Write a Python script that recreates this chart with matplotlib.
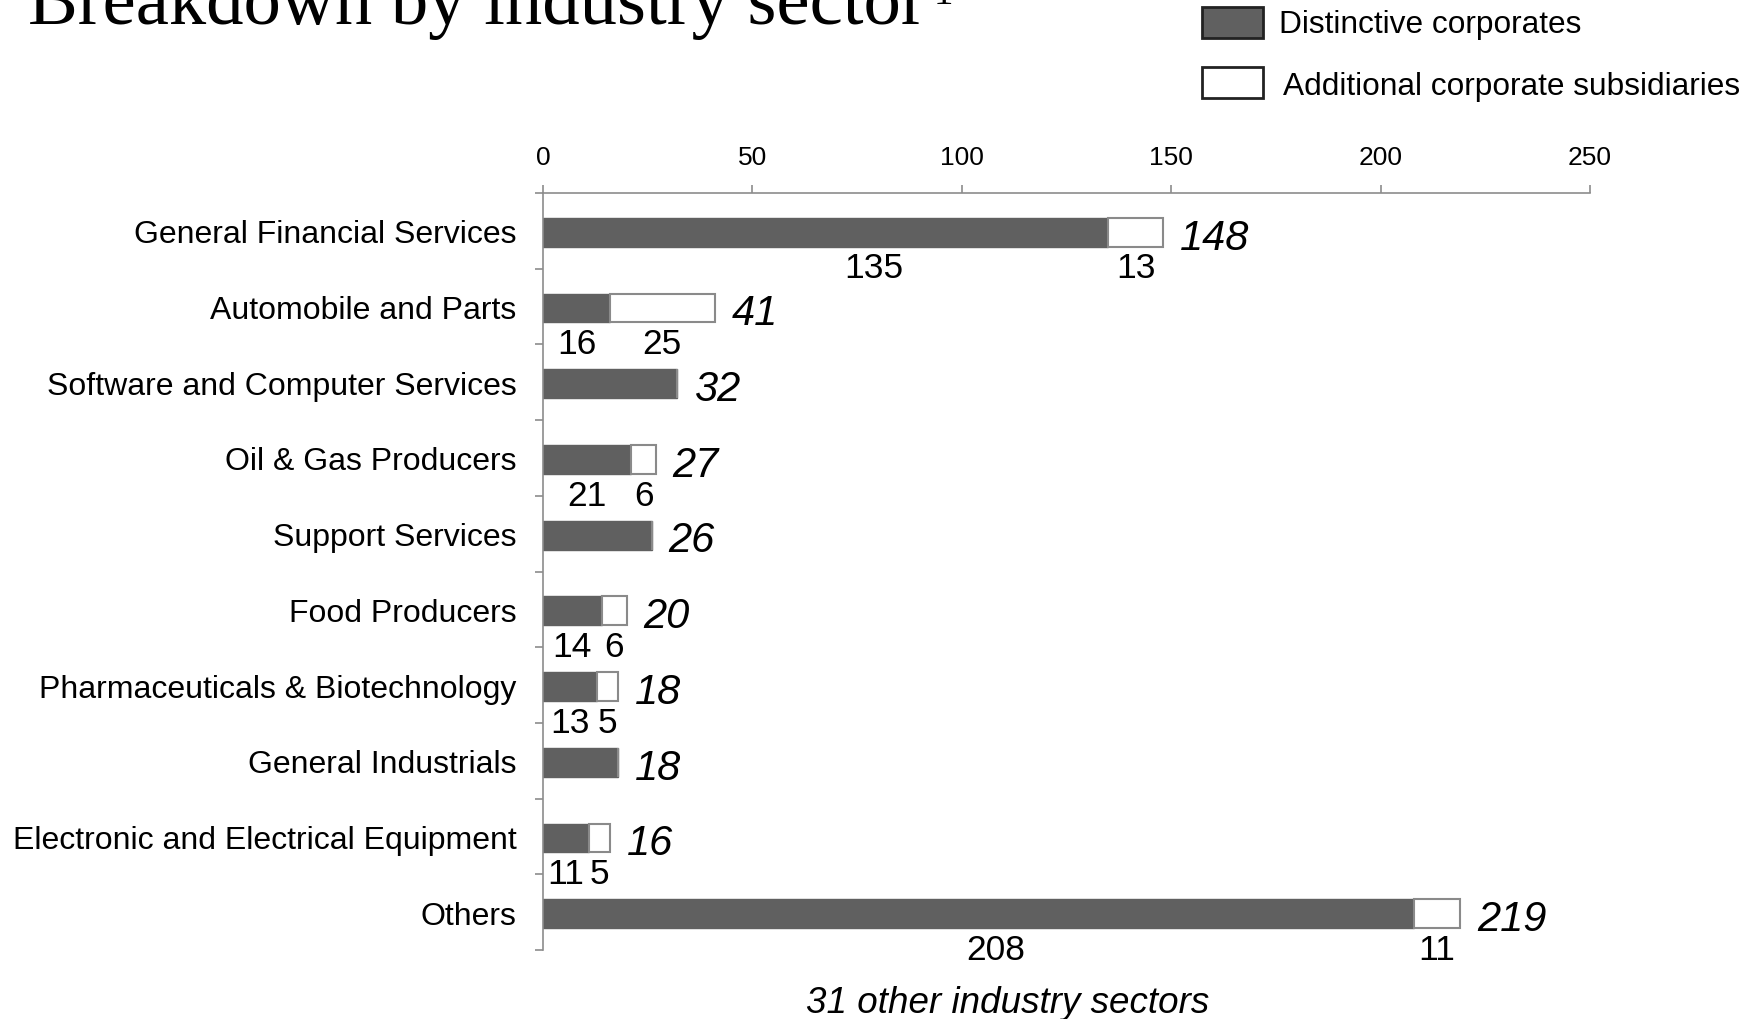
import matplotlib
matplotlib.use("Agg")
import matplotlib.pyplot as plt
from matplotlib.patches import Rectangle
import numpy as np

categories = ["General Financial Services", "Automobile and Parts",
              "Software and Computer Services", "Oil & Gas Producers",
              "Support Services", "Food Producers",
              "Pharmaceuticals & Biotechnology", "General Industrials",
              "Electronic and Electrical Equipment", "Others"]
distinctive = [135, 16, 32, 21, 26, 14, 13, 18, 11, 208]
additional = [13, 25, 0, 6, 0, 6, 5, 0, 5, 11]
totals = [148, 41, 32, 27, 26, 20, 18, 18, 16, 219]
x_ticks = [0, 50, 100, 150, 200, 250]

DARK = "#606060"
EDGE = "#8a8a8a"
AX = "#8c8c8c"
SANS = ["Liberation Sans", "DejaVu Sans"]
SERIF = ["Liberation Serif", "DejaVu Serif"]
plt.rcParams['font.family'] = SANS

W, H = 1749, 1020
fig = plt.figure(figsize=(W / 100, H / 100), dpi=100)
ax = fig.add_axes([543 / W, 1 - 951 / H, (1590 - 543) / W, (951 - 194) / H])

y = np.arange(len(categories))
bh = 0.38
ax.barh(y + 0.02, distinctive, height=bh, color=DARK, edgecolor=DARK, linewidth=1.0)
ax.barh(y + 0.02, additional, left=distinctive, height=bh, color="white",
        edgecolor=EDGE, linewidth=1.5)

ax.set_xlim(0, 250)
ax.set_ylim(len(categories) - 0.5, -0.5)

# top x axis
ax.xaxis.tick_top()
ax.set_xticks(x_ticks)
ax.set_xticklabels([str(v) for v in x_ticks], fontsize=19)
ax.tick_params(axis='x', direction='out', length=6, width=1.2, color=AX, pad=11)

# y axis: category labels at centers, ticks at boundaries
ax.set_yticks(y)
ax.set_yticklabels(categories, fontsize=23)
ax.tick_params(axis='y', which='major', length=0, pad=19)
ax.set_yticks(np.arange(len(categories) + 1) - 0.5, minor=True)
ax.tick_params(axis='y', which='minor', direction='out', length=6, width=1.2, color=AX)

for s in ['right', 'bottom']:
    ax.spines[s].set_visible(False)
for s in ['left', 'top']:
    ax.spines[s].set_color(AX)
    ax.spines[s].set_linewidth(1.2)

# label placement tweak for the long bars (fraction of the dark segment)
dark_label_frac = {0: 0.585, 9: 0.52}

# segment labels below bars
for i in range(len(categories)):
    if additional[i] > 0:
        frac = dark_label_frac.get(i, 0.5)
        ax.text(distinctive[i] * frac, i + 0.49, str(distinctive[i]), ha='center',
                va='center', fontsize=25.5)
        ax.text(distinctive[i] + additional[i] / 2, i + 0.49, str(additional[i]),
                ha='center', va='center', fontsize=25.5)
    ax.annotate(str(totals[i]), xy=(totals[i], i + 0.09), xytext=(12, 0),
                textcoords='offset points', ha='left', va='center',
                fontsize=30, style='italic')

# footnote under axis
fig.text(1008 / W, 1 - 1004 / H, "31 other industry sectors", ha='center', va='center',
         fontsize=26.5, style='italic')

# title (cut at top)
fig.text(28 / W, 1 - 24 / H, "Breakdown by industry sector", ha='left',
         va='baseline', fontsize=53.7, family=SERIF)
fig.text(934 / W, 1 - 4 / H, "1", ha='left', va='baseline', fontsize=28, family=SERIF)

# legend
fig.patches.append(Rectangle((1202 / W, 1 - 39 / H), 61 / W, 31 / H,
                             transform=fig.transFigure, facecolor=DARK,
                             edgecolor="#222222", linewidth=2))
fig.patches.append(Rectangle((1202 / W, 1 - 99 / H), 61 / W, 31 / H,
                             transform=fig.transFigure, facecolor="white",
                             edgecolor="#222222", linewidth=2))
fig.text(1279 / W, 1 - 25 / H, "Distinctive corporates", ha='left', va='center', fontsize=22.8)
fig.text(1283 / W, 1 - 87 / H, "Additional corporate subsidiaries", ha='left', va='center',
         fontsize=22.8)

fig.savefig("out.png", dpi=100)
